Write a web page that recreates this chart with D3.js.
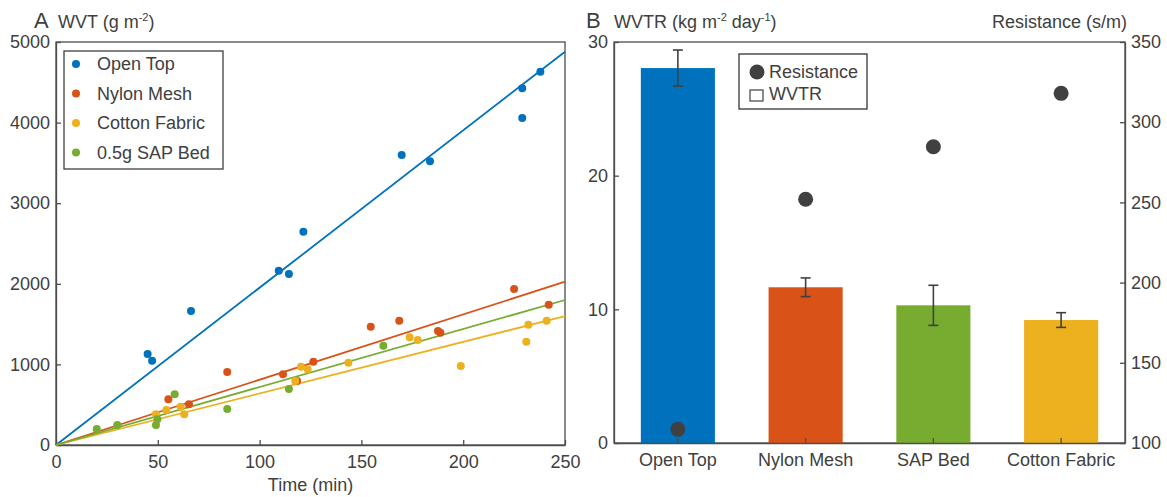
<!DOCTYPE html>
<html>
<head>
<meta charset="utf-8">
<script src="https://cdn.jsdelivr.net/npm/d3@7"></script>
<style>
  body { margin: 0; background: #fff; }
  svg { font-family: "Liberation Sans", Arial, sans-serif; }
  .axis { font-family: "Liberation Sans", Arial, sans-serif; }
  .axis text { font-size: 18px; fill: #404040; }
  .axis path, .axis line { stroke: #4d4d4d; stroke-width: 1.3; }
</style>
</head>
<body>
<svg id="chart" width="1167" height="497"></svg>
<script>
// ---- panel A data: time (min) vs WVT (g m^-2)
const seriesNames = ["Open Top", "Nylon Mesh", "Cotton Fabric", "0.5g SAP Bed"];
const seriesColors = ["#0072BD", "#D95319", "#EDB120", "#77AC30"];

const openTopT = [45, 47.2, 66.3, 109.4, 114.4, 121.5, 169.8, 183.7, 229, 229, 237.9];
const openTopV = [1129, 1046, 1662, 2163, 2121, 2647, 3598, 3520, 4425, 4057, 4632];

const nylonT = [55.2, 65.3, 84.1, 111.5, 118.4, 126.4, 154.6, 168.6, 187.6, 188.8, 225, 242];
const nylonV = [567, 505, 906, 877, 794, 1034, 1468, 1542, 1414, 1394, 1935, 1741];

const cottonT = [49.1, 54.2, 61.2, 63, 117.5, 120.3, 123.6, 143.6, 173.7, 177.7, 198.8, 231, 232, 241];
const cottonV = [381, 434, 476, 381, 794, 972, 939, 1021, 1336, 1303, 980, 1282, 1493, 1542];

const sapT = [20, 30.1, 49.1, 49.8, 58.3, 84.1, 114.4, 160.8];
const sapV = [198, 248, 248, 318, 629, 447, 695, 1232];

// fitted line value at t = 250 (lines pass through origin)
const fitEnd = [4880, 2026, 1600, 1799];

const timeTicks = [0, 50, 100, 150, 200, 250];
const wvtTicks = [0, 1000, 2000, 3000, 4000, 5000];

// ---- panel B data
const materials = ["Open Top", "Nylon Mesh", "SAP Bed", "Cotton Fabric"];
const barColors = ["#0072BD", "#D95319", "#77AC30", "#EDB120"];
const wvtr = [28.05, 11.65, 10.3, 9.2];
const wvtrErr = [1.35, 0.7, 1.5, 0.55];
const resistance = [108.5, 252, 284.7, 318];
const wvtrTicks = [0, 10, 20, 30];
const resTicks = [100, 150, 200, 250, 300, 350];

const svg = d3.select("#chart");
const textColor = "#404040";
const fmt = d3.format("d");

// ================= Panel A =================
const A = { left: 56, right: 565, top: 42, bottom: 445 };
const x = d3.scaleLinear().domain([0, 250]).range([A.left, A.right]);
const y = d3.scaleLinear().domain([0, 5000]).range([A.bottom, A.top]);

const pts = [
  openTopT.map((t, i) => ({ t: t, v: openTopV[i] })),
  nylonT.map((t, i) => ({ t: t, v: nylonV[i] })),
  cottonT.map((t, i) => ({ t: t, v: cottonV[i] })),
  sapT.map((t, i) => ({ t: t, v: sapV[i] }))
];

// box
svg.append("rect")
  .attr("x", A.left).attr("y", A.top)
  .attr("width", A.right - A.left).attr("height", A.bottom - A.top)
  .attr("fill", "none").attr("stroke", "#4d4d4d").attr("stroke-width", 1.3);

svg.append("g").attr("class", "axis")
  .attr("transform", `translate(0,${A.bottom})`)
  .call(d3.axisBottom(x).tickValues(timeTicks).tickFormat(fmt).tickSizeInner(-5).tickSizeOuter(0).tickPadding(10));

svg.append("g").attr("class", "axis")
  .attr("transform", `translate(${A.left},0)`)
  .call(d3.axisLeft(y).tickValues(wvtTicks).tickFormat(fmt).tickSizeInner(-5).tickSizeOuter(0).tickPadding(6));

// fit lines
svg.append("g").selectAll("line")
  .data(fitEnd)
  .join("line")
  .attr("x1", x(0)).attr("y1", y(0))
  .attr("x2", x(250)).attr("y2", d => y(d))
  .attr("stroke", (d, i) => seriesColors[i])
  .attr("stroke-width", 1.8);

// points
pts.forEach(function(series, i) {
  svg.append("g").selectAll("circle")
    .data(series)
    .join("circle")
    .attr("cx", d => x(d.t))
    .attr("cy", d => y(d.v))
    .attr("r", 4)
    .attr("fill", seriesColors[i]);
});

// legend A
const legA = svg.append("g").attr("transform", "translate(64,51)");
legA.append("rect").attr("width", 159).attr("height", 118)
  .attr("fill", "#fff").attr("stroke", "#404040").attr("stroke-width", 1.3);
seriesNames.forEach(function(name, i) {
  legA.append("circle").attr("cx", 12).attr("cy", 13 + i * 29.5).attr("r", 4)
    .attr("fill", seriesColors[i]);
  legA.append("text").attr("x", 33).attr("y", 13 + i * 29.5).attr("dy", "0.35em")
    .attr("font-size", 18).attr("fill", textColor).text(name);
});

svg.append("text").attr("x", 34).attr("y", 28).attr("font-size", 22).attr("fill", textColor).text("A");
const tA = svg.append("text").attr("x", 58).attr("y", 28).attr("font-size", 18).attr("fill", textColor);
tA.append("tspan").text("WVT (g m");
tA.append("tspan").attr("font-size", 11).attr("dy", -7).text("-2");
tA.append("tspan").attr("dy", 7).text(")");

svg.append("text").attr("x", (A.left + A.right) / 2).attr("y", 491)
  .attr("text-anchor", "middle").attr("font-size", 18).attr("fill", textColor).text("Time (min)");

// ================= Panel B =================
const B = { left: 614, right: 1125, top: 42, bottom: 443 };
const xb = d3.scaleBand().domain(materials).range([B.left, B.right]).paddingInner(0.42).paddingOuter(0.21);
const yb = d3.scaleLinear().domain([0, 30]).range([B.bottom, B.top]);
const yr = d3.scaleLinear().domain([100, 350]).range([B.bottom, B.top]);

svg.append("rect")
  .attr("x", B.left).attr("y", B.top)
  .attr("width", B.right - B.left).attr("height", B.bottom - B.top)
  .attr("fill", "none").attr("stroke", "#4d4d4d").attr("stroke-width", 1.3);

// bars
svg.append("g").selectAll("rect")
  .data(materials)
  .join("rect")
  .attr("x", d => xb(d))
  .attr("width", xb.bandwidth())
  .attr("y", (d, i) => yb(wvtr[i]))
  .attr("height", (d, i) => yb(0) - yb(wvtr[i]))
  .attr("fill", (d, i) => barColors[i]);

svg.append("g").attr("class", "axis")
  .attr("transform", `translate(0,${B.bottom})`)
  .call(d3.axisBottom(xb).tickSizeInner(-5).tickSizeOuter(0).tickPadding(10));

svg.append("g").attr("class", "axis")
  .attr("transform", `translate(${B.left},0)`)
  .call(d3.axisLeft(yb).tickValues(wvtrTicks).tickSizeInner(-5).tickSizeOuter(0).tickPadding(6));

svg.append("g").attr("class", "axis")
  .attr("transform", `translate(${B.right},0)`)
  .call(d3.axisRight(yr).tickValues(resTicks).tickSizeInner(-5).tickSizeOuter(0).tickPadding(6));

// error bars
const eb = svg.append("g").attr("stroke", "#404040").attr("stroke-width", 1.6);
materials.forEach(function(m, i) {
  const cx = xb(m) + xb.bandwidth() / 2;
  const y1 = yb(wvtr[i] + wvtrErr[i]), y2 = yb(wvtr[i] - wvtrErr[i]);
  eb.append("line").attr("x1", cx).attr("x2", cx).attr("y1", y1).attr("y2", y2);
  eb.append("line").attr("x1", cx - 5).attr("x2", cx + 5).attr("y1", y1).attr("y2", y1);
  eb.append("line").attr("x1", cx - 5).attr("x2", cx + 5).attr("y1", y2).attr("y2", y2);
});

// resistance markers
svg.append("g").selectAll("circle")
  .data(materials)
  .join("circle")
  .attr("cx", d => xb(d) + xb.bandwidth() / 2)
  .attr("cy", (d, i) => yr(resistance[i]))
  .attr("r", 7.5)
  .attr("fill", "#404040");

// legend B
const legB = svg.append("g").attr("transform", "translate(739,54)");
legB.append("rect").attr("width", 128).attr("height", 55)
  .attr("fill", "#fff").attr("stroke", "#333").attr("stroke-width", 1.3);
legB.append("circle").attr("cx", 18).attr("cy", 18).attr("r", 7.5).attr("fill", "#404040");
legB.append("text").attr("x", 30).attr("y", 18).attr("dy", "0.35em").attr("font-size", 18)
  .attr("fill", textColor).text("Resistance");
legB.append("rect").attr("x", 11).attr("y", 36).attr("width", 13).attr("height", 11)
  .attr("fill", "none").attr("stroke", "#404040").attr("stroke-width", 1.2);
legB.append("text").attr("x", 30).attr("y", 40).attr("dy", "0.35em").attr("font-size", 18)
  .attr("fill", textColor).text("WVTR");

svg.append("text").attr("x", 586).attr("y", 28).attr("font-size", 22).attr("fill", textColor).text("B");
const tB = svg.append("text").attr("x", 614).attr("y", 28).attr("font-size", 18).attr("fill", textColor);
tB.append("tspan").text("WVTR (kg m");
tB.append("tspan").attr("font-size", 11).attr("dy", -7).text("-2");
tB.append("tspan").attr("dy", 7).text(" day");
tB.append("tspan").attr("font-size", 11).attr("dy", -7).text("-1");
tB.append("tspan").attr("dy", 7).text(")");

svg.append("text").attr("x", 1127).attr("y", 28).attr("text-anchor", "end")
  .attr("font-size", 18).attr("fill", textColor).text("Resistance (s/m)");
</script>
</body>
</html>
